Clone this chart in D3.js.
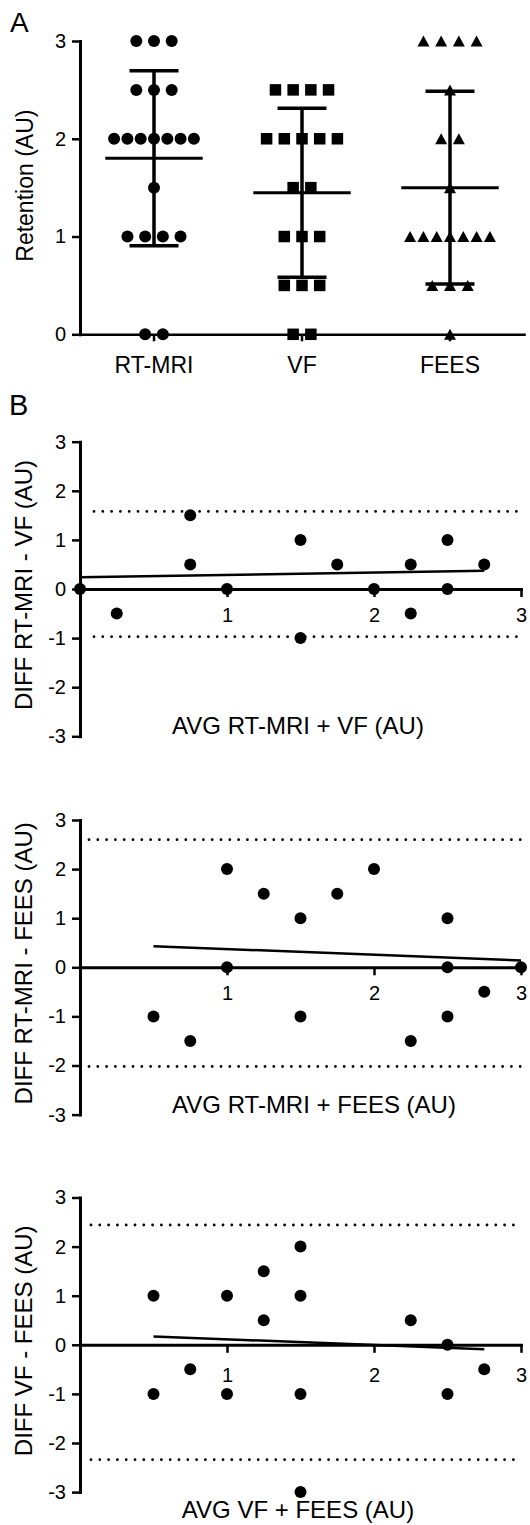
<!DOCTYPE html>
<html><head><meta charset="utf-8">
<script src="https://cdn.jsdelivr.net/npm/d3@7"></script>
<style>
html,body{margin:0;padding:0;background:#fff;}
svg{display:block;font-family:"Liberation Sans",Arial,Helvetica,sans-serif;}
</style></head><body>
<svg id="chart" width="530" height="1525"></svg>
<script>
// ---------- data ----------
const categories = ["RT-MRI", "VF", "FEES"];
const retentionRTMRI = [3,3,3,2.5,2.5,2.5,2,2,2,2,2,2,2,1.5,1,1,1,1,0,0];
const retentionVF    = [2.5,2.5,2.5,2.5,2,2,2,2,2,1.5,1.5,1,1,1,0.5,0.5,0.5,0,0];
const retentionFEES  = [3,3,3,3,2.5,2,2,1.5,1,1,1,1,1,1,1,0.5,0.5,0.5,0];
const retentionTicks = [0,1,2,3];
const retentionTitle = "Retention (AU)";

const diffTicks = [-3,-2,-1,0,1,2,3];
const avgTicks = [1,2,3];

const ba1Avg  = [0,0.25,0.75,0.75,1,1.5,1.5,1.75,2,2.25,2.25,2.5,2.5,2.75];
const ba1Diff = [0,-0.5,1.5,0.5,0,1,-1,0.5,0,0.5,-0.5,1,0,0.5];
const ba1Limits = [1.58,-0.97];
const ba1FitX = [0,2.75];
const ba1FitY = [0.24,0.37];

const ba2Avg  = [0.5,0.75,1,1,1.25,1.5,1.5,1.75,2,2.25,2.5,2.5,2.5,2.75,3];
const ba2Diff = [-1,-1.5,2,0,1.5,1,-1,1.5,2,-1.5,1,0,-1,-0.5,0];
const ba2Limits = [2.6,-2.02];
const ba2FitX = [0.5,3];
const ba2FitY = [0.43,0.14];

const ba3Avg  = [0.5,0.5,0.75,1,1,1.25,1.25,1.5,1.5,1.5,1.5,2.25,2.5,2.5,2.75];
const ba3Diff = [1,-1,-0.5,1,-1,1.5,0.5,2,1,-1,-3,0.5,0,-1,-0.5];
const ba3Limits = [2.44,-2.34];
const ba3FitX = [0.5,2.75];
const ba3FitY = [0.17,-0.09];

const baYTitles = ["DIFF RT-MRI - VF (AU)", "DIFF RT-MRI - FEES (AU)", "DIFF VF - FEES (AU)"];
const baXTitles = ["AVG RT-MRI + VF (AU)", "AVG RT-MRI + FEES (AU)", "AVG VF + FEES (AU)"];

// ---------- drawing ----------
const svg = d3.select("#chart");
const INK = "#000";

function styleAxis(g, w) {
  g.select(".domain").attr("stroke", INK).attr("stroke-width", w).attr("stroke-linecap", "square");
  g.selectAll(".tick line").attr("stroke", INK).attr("stroke-width", 2.5);
  g.selectAll(".tick text").attr("fill", INK).attr("font-family", "Liberation Sans, Arial, sans-serif");
}

// Panel label A
svg.append("text").attr("x", 10).attr("y", 32).attr("font-size", 28).attr("fill", INK).text("A");

// Panel A scales
const yA = d3.scaleLinear().domain([0,3]).range([334.3, 41]);
const xA = d3.scaleBand().domain(categories).range([80, 524]);

const gA = svg.append("g");
const yAxA = gA.append("g").attr("transform", "translate(80,0)")
  .call(d3.axisLeft(yA).tickValues(retentionTicks).tickSize(8).tickSizeOuter(0).tickPadding(6).tickFormat(d => String(d)));
yAxA.selectAll(".tick text").attr("font-size", 20);
styleAxis(yAxA, 3);

const xAxA = gA.append("g").attr("transform", `translate(0,${yA(0)})`)
  .call(d3.axisBottom(xA).tickSize(7).tickSizeOuter(0).tickPadding(15));
xAxA.selectAll(".tick text").attr("font-size", 23);
styleAxis(xAxA, 2.5);

gA.append("text")
  .attr("transform", `translate(33,${(yA(0)+yA(3))/2 - 2}) rotate(-90)`)
  .attr("text-anchor", "middle").attr("font-size", 23).attr("fill", INK)
  .text(retentionTitle);

const groups = [
  {name: categories[0], values: retentionRTMRI, shape: "circle"},
  {name: categories[1], values: retentionVF, shape: "square"},
  {name: categories[2], values: retentionFEES, shape: "triangle"}
];

groups.forEach(gr => {
  const cx = xA(gr.name) + xA.bandwidth()/2;
  const byVal = d3.group(gr.values, v => v);
  const pts = [];
  byVal.forEach((arr, v) => {
    const n = arr.length;
    const s = n >= 7 ? 13.3 : 17.7;
    arr.forEach((_, i) => pts.push({x: cx + (i - (n-1)/2) * s, y: yA(v)}));
  });
  const g = gA.append("g");
  if (gr.shape === "circle") {
    g.selectAll("circle").data(pts).join("circle")
      .attr("cx", d => d.x).attr("cy", d => d.y).attr("r", 6).attr("fill", INK);
  } else if (gr.shape === "square") {
    const a = 11.5;
    g.selectAll("rect").data(pts).join("rect")
      .attr("x", d => d.x - a/2).attr("y", d => d.y - a/2).attr("width", a).attr("height", a).attr("fill", INK);
  } else {
    const w = 12, h = 11;
    g.selectAll("path").data(pts).join("path")
      .attr("d", d => `M${d.x},${d.y - h/2}L${d.x + w/2},${d.y + h/2}L${d.x - w/2},${d.y + h/2}Z`)
      .attr("fill", INK);
  }
  const m = d3.mean(gr.values), sd = d3.deviation(gr.values);
  g.append("line").attr("x1", cx).attr("x2", cx).attr("y1", yA(m - sd)).attr("y2", yA(m + sd))
    .attr("stroke", INK).attr("stroke-width", 3.5);
  [m - sd, m + sd].forEach(v => g.append("line").attr("x1", cx - 24.5).attr("x2", cx + 24.5)
    .attr("y1", yA(v)).attr("y2", yA(v)).attr("stroke", INK).attr("stroke-width", 3.5));
  g.append("line").attr("x1", cx - 48.7).attr("x2", cx + 48.7).attr("y1", yA(m)).attr("y2", yA(m))
    .attr("stroke", INK).attr("stroke-width", 3);
});

// Panel label B
svg.append("text").attr("x", 9).attr("y", 415).attr("font-size", 29).attr("fill", INK).text("B");

const baCfg = [
  {top: 441.7, xTitleX: 298, xTitleY: 734, xpad: 11, dotStart: 94},
  {top: 820,   xTitleX: 314, xTitleY: 1113, xpad: 11, dotStart: 89},
  {top: 1197.5, xTitleX: 298, xTitleY: 1518, xpad: 15, dotStart: 91}
];
const baData = [
  {avg: ba1Avg, diff: ba1Diff, lim: ba1Limits, fx: ba1FitX, fy: ba1FitY},
  {avg: ba2Avg, diff: ba2Diff, lim: ba2Limits, fx: ba2FitX, fy: ba2FitY},
  {avg: ba3Avg, diff: ba3Diff, lim: ba3Limits, fx: ba3FitX, fy: ba3FitY}
];

baData.forEach((d, k) => {
  const c = baCfg[k];
  const y = d3.scaleLinear().domain([-3,3]).range([c.top + 294.6, c.top]);
  const x = d3.scaleLinear().domain([0,3]).range([80, 521]);
  const g = svg.append("g");

  // limits of agreement (dotted)
  d.lim.forEach(v => g.append("line")
    .attr("x1", c.dotStart).attr("x2", x(3)).attr("y1", y(v)).attr("y2", y(v))
    .attr("stroke", INK).attr("stroke-width", 2.8).attr("stroke-linecap", "round")
    .attr("stroke-dasharray", "0 8.8"));

  const yAx = g.append("g").attr("transform", "translate(80,0)")
    .call(d3.axisLeft(y).tickValues(diffTicks).tickSize(8).tickSizeOuter(0).tickPadding(6).tickFormat(v => String(v)));
  yAx.selectAll(".tick text").attr("font-size", 20);
  styleAxis(yAx, 3);

  const xAx = g.append("g").attr("transform", `translate(0,${y(0)})`)
    .call(d3.axisBottom(x).tickValues(avgTicks).tickSize(8).tickSizeOuter(0).tickPadding(c.xpad).tickFormat(v => String(v)));
  xAx.selectAll(".tick text").attr("font-size", 20);
  styleAxis(xAx, 3);

  // regression line
  g.append("line").attr("x1", x(d.fx[0])).attr("x2", x(d.fx[1]))
    .attr("y1", y(d.fy[0])).attr("y2", y(d.fy[1]))
    .attr("stroke", INK).attr("stroke-width", 2.5);

  g.selectAll("circle.pt").data(d3.zip(d.avg, d.diff)).join("circle")
    .attr("class", "pt").attr("cx", p => x(p[0])).attr("cy", p => y(p[1])).attr("r", 6).attr("fill", INK);

  g.append("text")
    .attr("transform", `translate(32,${(y(3)+y(-3))/2 - 4}) rotate(-90)`)
    .attr("text-anchor", "middle").attr("font-size", 24).attr("fill", INK)
    .text(baYTitles[k]);
  g.append("text").attr("x", c.xTitleX).attr("y", c.xTitleY)
    .attr("text-anchor", "middle").attr("font-size", 24).attr("fill", INK)
    .text(baXTitles[k]);
});
</script>
</body></html>
